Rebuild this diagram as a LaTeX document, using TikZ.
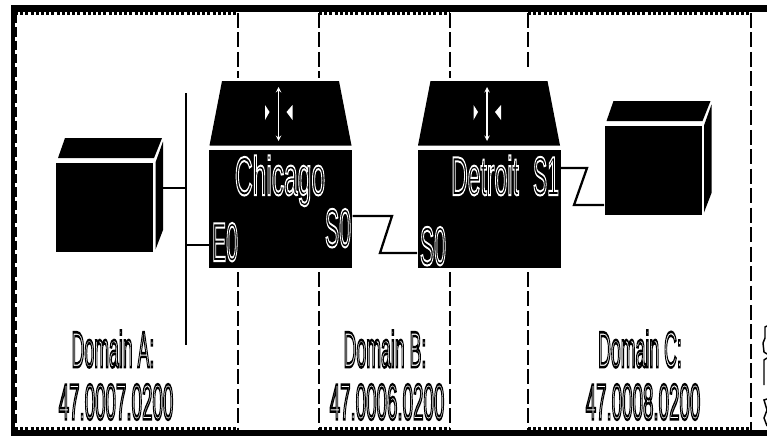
\documentclass[tikz,border=0pt]{standalone}
\usepackage{fontspec}
\setmainfont{Liberation Sans}
\newcommand{\hollow}[2][1.5]{\special{pdf:code q 1 Tr #1 w}#2\special{pdf:code Q}}
\tikzset{
  routerbox/.style={draw=none,fill=black,inner sep=0,minimum width=107.25pt,minimum height=88.5pt},
  hostbox/.style={draw=none,fill=black,inner sep=0,minimum width=72.75pt,minimum height=66.75pt},
  boxtext/.style={text=white,font=\fontsize{41}{41}\selectfont,inner sep=0,anchor=base,transform shape,xscale=#1},
  domaintext/.style={text=black,font=\fontsize{38}{38}\selectfont,inner sep=0,transform shape,xscale=#1},
  teeth/.style={draw=black,line width=2.6pt,dash pattern=on 2.3pt off 1.6pt},
  domainline/.style={draw=black,line width=0.85pt,dash pattern=on 11.2pt off 3.4pt},
  wirelink/.style={draw=black,line width=1.7pt,line join=miter},
}
\begin{document}
\begin{tikzpicture}[x=0.75pt,y=-0.75pt,line width=0.75pt,>=stealth]
  \useasboundingbox (0,0) rectangle (767,436);
  \clip (0,0) rectangle (767,436);
  \fill (11,5) rectangle (767,12);
  \fill (11,5) rectangle (15,436);
  \fill (11,430) rectangle (767,436);
  \foreach \a/\b in {15/238,319/450,528/751}\draw[teeth] (\a,13.5)--(\b,13.5);
  \foreach \a/\b in {15/238,319/450,528/751}\draw[teeth] (\a,428.5)--(\b,428.5);
  \draw[line width=1.5pt,dash pattern=on 7pt off 3pt] (16,14)--(16,430);
  \foreach \x/\ytop in {238/78,319/78,450/78,528/70}{
    \draw[domainline] (\x,13)--(\x,\ytop);
    \draw[domainline] (\x,272)--(\x,430);
  }
  \draw[domainline] (751,13)--(751,430);
  \foreach \x/\name in {280.5/chicago,489/detroit}{
    \node[routerbox] (\name) at (\x,209) {};
    \fill (\x-71,145.5)--(\x-58.5,81)--(\x+58.5,81)--(\x+71,145.5)--cycle;
    \draw[<->,white,line width=0.8pt] (\x-2,87)--(\x-2,141);
    \fill[white] (\x-15.5,105)--(\x-11,112)--(\x-15.5,120)--cycle;
    \fill[white] (\x+12,105)--(\x+6,112)--(\x+12,120)--cycle;
  }
  \foreach \x/\y/\name in {104.5/207.5/hosta,653/170.5/hostc}{
    \node[hostbox] (\name) at (\x,\y) {};
    \fill (\x-46.5,\y-49.5)--(\x-39.5,\y-69.5)--(\x+57.5,\y-69.5)--(\x+49.5,\y-49.5)--cycle;
    \fill (\x+51,\y-45)--(\x+58.5,\y-66)--(\x+58.5,\y+22.5)--(\x+51,\y+42)--cycle;
  }
  \coordinate (bustop) at (186,93);
  \coordinate (busbot) at (186,345);
  \coordinate (busa) at (186,188);
  \coordinate (busb) at (186,245);
  \coordinate (hostaside) at (163,188);
  \coordinate (kneea) at (392,216);
  \coordinate (kneeb) at (380,253);
  \coordinate (kneec) at (587,168);
  \coordinate (kneed) at (574,205);
  \draw[line width=1.1pt] (bustop)--(busbot);
  \draw[wirelink] (hostaside)--(busa);
  \draw[wirelink] (busb)--(chicago.west|-busb);
  \draw[wirelink] (chicago.east|-kneea)--(kneea)--(kneeb)--(detroit.west|-kneeb);
  \draw[wirelink] (detroit.east|-kneec)--(kneec)--(kneed)--(hostc.west|-kneed);
  \node[boxtext=.45] (chicagoname) at (280,195) {\hollow{Chicago}};
  \node[boxtext=.42] (detroitname) at (485,195) {\hollow{Detroit}};
  \node[boxtext=.39] (portea) at (225,261) {\hollow{E0}};
  \node[boxtext=.39] (portsa) at (338,247) {\hollow{S0}};
  \node[boxtext=.39] (portsb) at (433,265) {\hollow{S0}};
  \node[boxtext=.39] (portsc) at (546,195) {\hollow{S1}};
  \node[domaintext=.35] (domaina) at (113,349) {\hollow[1.9]{Domain A:}};
  \node[domaintext=.37] (addra) at (116,402) {\hollow[1.9]{47.0007.0200}};
  \node[domaintext=.35] (domainb) at (385,349) {\hollow[1.9]{Domain B:}};
  \node[domaintext=.37] (addrb) at (387,402) {\hollow[1.9]{47.0006.0200}};
  \node[domaintext=.35] (domainc) at (640,349) {\hollow[1.9]{Domain C:}};
  \node[domaintext=.37] (addrc) at (643,402) {\hollow[1.9]{47.0008.0200}};
  \draw[line width=1.1pt] (767,326)--(765,327)--(765,338)--(763,343)--(764,352)--(767,354);
  \draw[line width=1.1pt] (767,358)--(764,360)--(764,385);
  \draw[line width=1.1pt] (767,399)--(764,400)--(767,410)--(764,418)--(767,426);
\end{tikzpicture}
\end{document}
